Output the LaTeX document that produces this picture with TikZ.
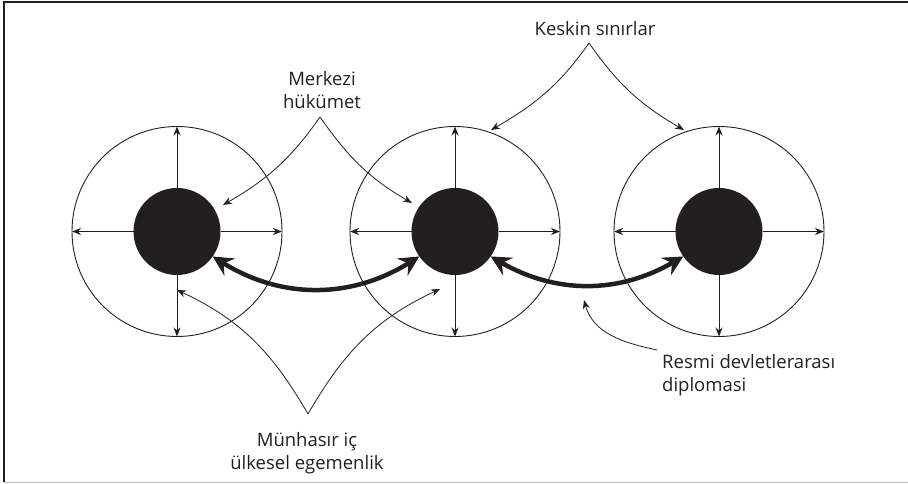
\documentclass[tikz,border=0pt]{standalone}
\usepackage{fontspec}
\setmainfont{Open Sans}
\usetikzlibrary{arrows.meta,positioning}
\definecolor{ink}{HTML}{231F20}
\tikzset{
  ring/.style={circle,draw=ink,line width=0.9pt,minimum size=210pt,inner sep=0pt,outer sep=0pt},
  core/.style={circle,fill=ink,minimum size=87pt,inner sep=0pt,outer sep=0pt},
  spoke/.style={draw=ink,line width=0.9pt,-{Stealth[length=9pt,width=7pt]}},
  lead/.style={draw=ink,line width=0.8pt,-{Stealth[length=9pt,width=7pt]}},
  tie/.style={draw=ink,line width=4.5pt,
    {Stealth[length=20pt,width=20pt,inset=7pt]}-{Stealth[length=20pt,width=20pt,inset=7pt]}},
  lbl/.style={text=ink,font=\fontsize{18.5}{23}\selectfont,inner sep=0pt}
}
\begin{document}
\begin{tikzpicture}[x=1pt,y=1pt]
  \useasboundingbox (0,0) rectangle (908,484);
  % frame
  \draw[ink,line width=1.4pt] (908,482) -- (4,482) -- (4,2);
  \draw[black!25,line width=1pt] (4,1) -- (908,1);
  % states
  \node[ring] (r1) at (177,252.5) {};
  \node[ring] (r2) at (455,252.5) {};
  \node[ring] (r3) at (719,252.5) {};
  \node[core] (c1) at (177,252.5) {};
  \node[core] (c2) at (455,252.5) {};
  \node[core] (c3) at (719,252.5) {};
  \foreach \i in {1,2,3}
    \foreach \a in {north,south,east,west}
      \draw[spoke] (c\i.\a) -- (r\i.\a);
  % diplomacy
  \draw[tie] (c1.-35) to[bend right=32] (c2.215);
  \draw[tie] (c2.-35) to[bend right=30] (c3.215);
  % labels
  \node[lbl,align=center] (gov) at (322,394) {Merkezi\\hükümet};
  \node[lbl,anchor=base] (bord) at (595,448) {Keskin sınırlar};
  \node[lbl,align=center] (sov) at (307,31) {Münhasır iç\\ülkesel egemenlik};
  \node[lbl,align=left,anchor=west] (dipl) at (662,109) {Resmi devletlerarası\\diplomasi};
  % leader ends
  \coordinate (gtop) at (320,367);
  \coordinate (g1) at (223,279);
  \coordinate (g2) at (412,281);
  \coordinate (btop) at (589,441);
  \coordinate (b1) at (491,354);
  \coordinate (b2) at (684,354);
  \coordinate (sbot) at (308,70);
  \coordinate (s1) at (177,194);
  \coordinate (s2) at (440,195);
  \coordinate (dstart) at (657,134);
  \coordinate (d1) at (584,184);
  \draw[lead] (gtop) to[out=-125,in=30] (g1);
  \draw[lead] (gtop) to[out=-55,in=150] (g2);
  \draw[lead] (btop) to[out=-125,in=30] (b1);
  \draw[lead] (btop) to[out=-55,in=150] (b2);
  \draw[lead] (sbot) to[out=120,in=-25] (s1);
  \draw[lead] (sbot) to[out=60,in=-155] (s2);
  \draw[lead] (dstart) to[out=168,in=-75] (d1);
\end{tikzpicture}
\end{document}
